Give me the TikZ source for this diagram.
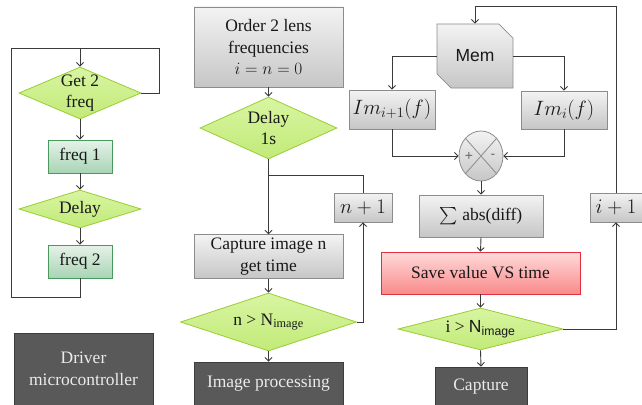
\documentclass[tikz,border=0pt]{standalone}
\usepackage{amsmath}
\usepackage{fontspec}
\setmainfont{Liberation Serif}
\setsansfont{Liberation Sans}
\usetikzlibrary{shapes.geometric,shapes.misc,arrows.meta}

\definecolor{lineclr}{HTML}{3A3A3A}
\definecolor{diafill}{HTML}{D8F5A2}
\definecolor{diafillb}{HTML}{C2EA78}
\definecolor{diadraw}{HTML}{9ACD32}
\definecolor{grntop}{HTML}{E6F2E9}
\definecolor{grnbot}{HTML}{A8D4B4}
\definecolor{grndraw}{HTML}{4A9A5E}
\definecolor{grytop}{HTML}{F3F3F3}
\definecolor{grybot}{HTML}{C6C6C6}
\definecolor{grydraw}{HTML}{8C8C8C}
\definecolor{darkfill}{HTML}{595959}
\definecolor{darkdraw}{HTML}{3D3D3D}
\definecolor{redtop}{HTML}{FFDADA}
\definecolor{redbot}{HTML}{F98A8A}
\definecolor{reddraw}{HTML}{E0303F}

\tikzset{
  every node/.style={font=\fontsize{17.5}{21.5}\selectfont, text=black!90, align=center},
  mathtext/.style={font=\fontsize{20}{24}\selectfont},
  decision/.style={diamond, draw=diadraw, line width=0.8pt, top color=diafill, bottom color=diafillb, inner sep=-3pt},
  greenbox/.style={rectangle, draw=grndraw, line width=0.8pt, top color=grntop, bottom color=grnbot},
  graybox/.style={rectangle, draw=grydraw, line width=0.8pt, top color=grytop, bottom color=grybot},
  darkbox/.style={rectangle, draw=darkdraw, line width=0.8pt, fill=darkfill, text=white!92!black},
  redbox/.style={rectangle, draw=reddraw, line width=0.8pt, top color=redtop, bottom color=redbot},
  membox/.style={chamfered rectangle, chamfered rectangle corners={north east, south west},
    chamfered rectangle xsep=8pt, chamfered rectangle ysep=8pt, inner sep=0pt,
    draw=grydraw, line width=0.8pt, top color=grytop, bottom color=grybot, font=\sffamily\fontsize{17.5}{21.5}\selectfont},
  sumnode/.style={ellipse, draw=grydraw, line width=0.8pt, top color=grytop, bottom color=grybot, inner sep=0pt},
  signlbl/.style={font=\sffamily\fontsize{14}{16}\selectfont, text=black!60},
  flow/.style={draw=lineclr, line width=0.9pt},
  >={Straight Barb[length=3.5pt,width=7pt]}
}

\begin{document}
\begin{tikzpicture}[x=1pt, y=-1pt]
\useasboundingbox (0,0) rectangle (642,404);
% driver loop
\node[decision, aspect=2.3, minimum width=122pt, minimum height=52pt] (get) at (80,93) {Get 2\\freq};
\node[greenbox, minimum width=64pt, minimum height=33pt] (fa) at (80,156.5) {freq 1};
\node[decision, aspect=3.2, minimum width=122pt, minimum height=38pt] (dly) at (80,209) {Delay};
\node[greenbox, minimum width=64pt, minimum height=33pt] (fb) at (80,261.5) {freq 2};
\node[darkbox, minimum width=139pt, minimum height=72pt] (drv) at (83.5,369) {Driver\\microcontroller};
\coordinate (tl) at (11,48);
\coordinate (tm) at (80,48);
\coordinate (tr) at (159,48);
\coordinate (bl) at (11,297);
\draw[flow] (fb.south) |- (bl) -- (tl) -- (tr) |- (get.east);
\draw[flow,->] (tm) -- (get.north);
\draw[flow,->] (get.south) -- (fa.north);
\draw[flow,->] (fa.south) -- (dly.north);
\draw[flow,->] (dly.south) -- (fb.north);

% acquisition
\node[graybox, minimum width=149pt, minimum height=80pt] (ord) at (268.5,47) {Order 2 lens\\frequencies\\$i=n=0$};
\node[decision, aspect=2.2, minimum width=137pt, minimum height=62pt] (dsec) at (268.5,128) {Delay\\1s};
\node[graybox, minimum width=149pt, minimum height=43pt] (cap) at (268.5,256.5) {Capture image n\\get time};
\node[decision, aspect=3, minimum width=176pt, minimum height=58pt] (ntest) at (268.5,322) {n > N\textsubscript{image}};
\node[darkbox, minimum width=149pt, minimum height=44pt] (proc) at (268.5,384) {Image processing};
\node[graybox, mathtext, minimum width=58pt, minimum height=29pt] (ninc) at (363,207.5) {$n+1$};
\coordinate (jn) at (268.5,175);
\draw[flow,->] (ord.south) -- (dsec.north);
\draw[flow,->] (dsec.south) -- (cap.north);
\draw[flow] (jn) -| (ninc.north);
\draw[flow,->] (cap.south) -- (ntest.north);
\draw[flow,->] (ntest.south) -- (proc.north);
\draw[flow,->] (ntest.east) -| (ninc.south);

% processing
\node[membox, minimum width=76pt, minimum height=64pt] (mem) at (475,56) {Mem};
\node[graybox, mathtext, minimum width=86pt, minimum height=39pt] (ima) at (392,109.5) {$Im_{i+1}(f)$};
\node[graybox, mathtext, minimum width=86pt, minimum height=38pt] (imb) at (564,110) {$Im_i(f)$};
\node[sumnode, minimum width=44pt, minimum height=50pt] (sum) at (481,156) {};
\draw[draw=grydraw, line width=0.8pt] (sum.north west) -- (sum.south east) (sum.north east) -- (sum.south west);
\node[signlbl] (plus) at ([xshift=-12pt]sum.center) {+};
\node[signlbl] (minus) at ([xshift=12pt]sum.center) {-};
\node[graybox, minimum width=124pt, minimum height=42pt] (sig) at (481,216) {$\sum$ abs(diff)};
\node[redbox, minimum width=199pt, minimum height=42pt] (save) at (480.5,273) {Save value VS time};
\node[decision, aspect=3.9, minimum width=165pt, minimum height=42pt] (itest) at (480.5,329) {i > {\sffamily N\textsubscript{image}}};
\node[darkbox, minimum width=92pt, minimum height=40pt] (capt) at (481,387) {Capture};
\node[graybox, mathtext, minimum width=52pt, minimum height=29pt] (iinc) at (616,207.5) {$i+1$};
\coordinate (mtop) at (616,6);
\draw[flow,->] (mem.west) -| (ima.north);
\draw[flow,->] (mem.east) -| (imb.north);
\draw[flow,->] (ima.south) |- (sum.west);
\draw[flow,->] (imb.south) |- (sum.east);
\draw[flow,->] (sum.south) -- (sig.north);
\draw[flow,->] (sig.south) -- (save.north);
\draw[flow,->] (save.south) -- (itest.north);
\draw[flow,->] (itest.south) -- (capt.north);
\draw[flow,->] (itest.east) -| (iinc.south);
\draw[flow,->] (iinc.north) -- (mtop) -| (mem.north);
\end{tikzpicture}
\end{document}
